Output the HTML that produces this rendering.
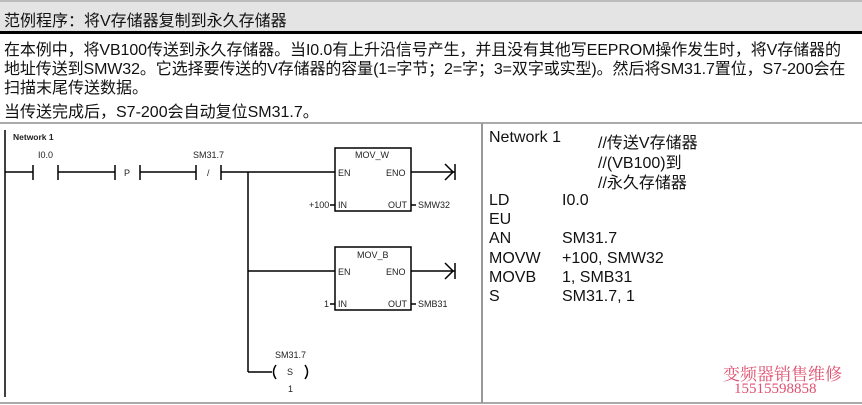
<!DOCTYPE html>
<html><head><meta charset="utf-8"><style>
body{margin:0;width:862px;height:405px;background:#fff;position:relative;overflow:hidden;font-family:"Liberation Sans","Noto Sans CJK SC",sans-serif;}
.a{position:absolute;white-space:nowrap;}
.t{font-size:16px;color:#111;}
.r{font-size:16px;color:#111;}
</style></head><body>
<div class="a" style="left:0;top:0;width:862px;height:32px;background:#e4e4e4;border-top:2px solid #bbb;box-sizing:border-box"></div>
<div class="a" style="left:0;top:31px;width:862px;height:3px;background:#000"></div>
<div class="a t" style="left:4px;top:7px;font-size:16px">范例程序：将V存储器复制到永久存储器</div>
<div class="a t" style="left:4px;top:36px;letter-spacing:-0.1px">在本例中，将VB100传送到永久存储器。当I0.0有上升沿信号产生，并且没有其他写EEPROM操作发生时，将V存储器的</div>
<div class="a t" style="left:4px;top:55px;letter-spacing:-0.1px">地址传送到SMW32。它选择要传送的V存储器的容量(1=字节；2=字；3=双字或实型)。然后将SM31.7置位，S7-200会在</div>
<div class="a t" style="left:4px;top:74px">扫描末尾传送数据。</div>
<div class="a t" style="left:4px;top:98px">当传送完成后，S7-200会自动复位SM31.7。</div>
<div class="a" style="left:0;top:122px;width:862px;height:2px;background:#aaa"></div>
<div class="a" style="left:0;top:402px;width:862px;height:2px;background:#aaa"></div>
<div class="a" style="left:481px;top:123px;width:2px;height:280px;background:#999"></div>
<svg class="a" style="left:0;top:0" width="482" height="405" font-family="Liberation Sans,sans-serif" font-size="9" fill="#222">
<g stroke="#000" stroke-width="1.5" fill="none">
<line x1="5" y1="130" x2="5" y2="397"/>
<line x1="5" y1="172" x2="33" y2="172"/><line x1="33" y1="165" x2="33" y2="180"/><line x1="58" y1="165" x2="58" y2="180"/>
<line x1="58" y1="172" x2="115" y2="172"/><line x1="115" y1="165" x2="115" y2="180"/><line x1="140" y1="165" x2="140" y2="180"/>
<line x1="140" y1="172" x2="196" y2="172"/><line x1="196" y1="165" x2="196" y2="180"/><line x1="221" y1="165" x2="221" y2="180"/>
<line x1="221" y1="172" x2="335" y2="172"/>
<line x1="248" y1="172" x2="248" y2="372"/>
<line x1="248" y1="271" x2="335" y2="271"/>
<line x1="248" y1="372" x2="272" y2="372"/>
<rect x="335" y="148" width="76" height="63"/>
<rect x="335" y="247" width="76" height="63"/>
<line x1="411" y1="172" x2="455" y2="172"/><polyline points="445,164 453,172 445,180"/><line x1="455" y1="164" x2="455" y2="180"/>
<line x1="411" y1="271" x2="455" y2="271"/><polyline points="445,263 453,271 445,279"/><line x1="455" y1="263" x2="455" y2="279"/>
<line x1="330" y1="205" x2="335" y2="205"/><line x1="411" y1="205" x2="416" y2="205"/>
<line x1="330" y1="304" x2="335" y2="304"/><line x1="411" y1="304" x2="416" y2="304"/>
<path d="M276 365 Q271 372 276 379"/><path d="M305 365 Q310 372 305 379"/>
</g>
<text x="13" y="140" font-weight="bold" font-size="8.5">Network 1</text>
<text x="38" y="158">I0.0</text>
<text x="124" y="176">P</text>
<text x="193" y="158">SM31.7</text>
<text x="207" y="176">/</text>
<text x="355" y="158">MOV_W</text>
<text x="338" y="176">EN</text><text x="386" y="176">ENO</text>
<text x="338" y="208">IN</text><text x="388" y="208">OUT</text>
<text x="309" y="208">+100</text><text x="418" y="208">SMW32</text>
<text x="357" y="258">MOV_B</text>
<text x="338" y="275">EN</text><text x="386" y="275">ENO</text>
<text x="338" y="307">IN</text><text x="388" y="307">OUT</text>
<text x="324" y="307">1</text><text x="418" y="307">SMB31</text>
<text x="275" y="358">SM31.7</text>
<text x="287" y="375">S</text>
<text x="288" y="392">1</text>
</svg>
<div class="a r" style="left:489px;top:129px">Network 1</div>
<div class="a r" style="left:598px;top:129px">//传送V存储器</div>
<div class="a r" style="left:598px;top:149px">//(VB100)到</div>
<div class="a r" style="left:598px;top:169px">//永久存储器</div>
<div class="a r" style="left:489px;top:192px">LD</div><div class="a r" style="left:562px;top:192px">I0.0</div>
<div class="a r" style="left:489px;top:211px">EU</div>
<div class="a r" style="left:489px;top:230px">AN</div><div class="a r" style="left:562px;top:230px">SM31.7</div>
<div class="a r" style="left:489px;top:250px">MOVW</div><div class="a r" style="left:562px;top:250px">+100, SMW32</div>
<div class="a r" style="left:489px;top:269px">MOVB</div><div class="a r" style="left:562px;top:269px">1, SMB31</div>
<div class="a r" style="left:489px;top:288px">S</div><div class="a r" style="left:562px;top:288px">SM31.7, 1</div>
<div class="a" style="left:723px;top:360px;font-size:17px;color:#e05070;font-family:'Noto Serif CJK SC',serif">变频器销售维修</div>
<div class="a" style="left:734px;top:381px;font-size:15px;color:#e05070;font-family:'Liberation Serif',serif">15515598858</div>
</body></html>
